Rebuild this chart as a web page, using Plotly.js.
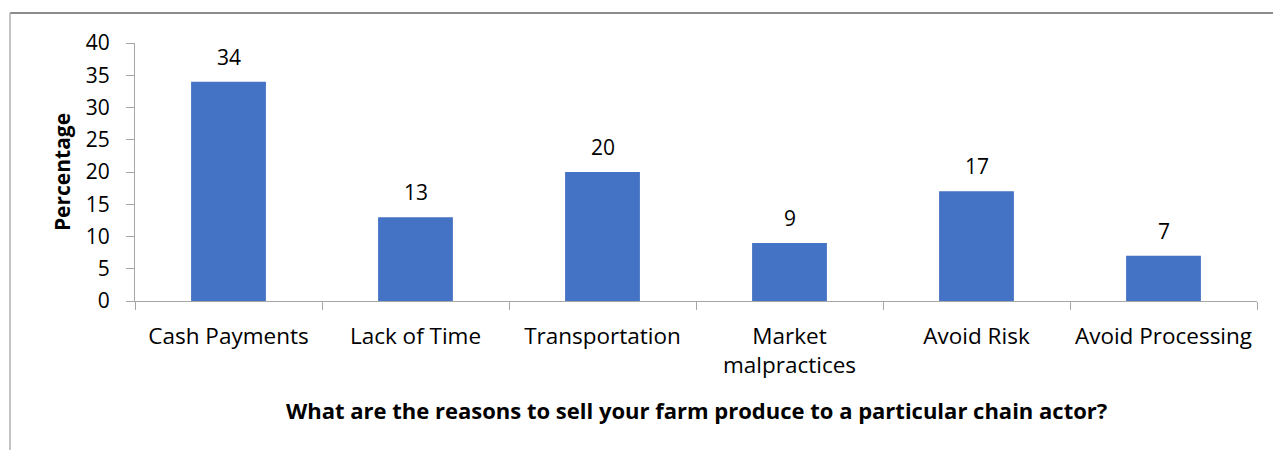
<!DOCTYPE html>
<html>
<head>
<meta charset="utf-8">
<script src="https://cdn.plot.ly/plotly-3.0.1.min.js"></script>
<style>html,body{margin:0;padding:0;background:#fff;}#chart{width:1273px;height:450px;}</style>
</head>
<body>
<div id="chart"></div>
<script>
const categories = ["Cash Payments", "Lack of Time", "Transportation", "Market<br>malpractices", "Avoid Risk", "Avoid Processing"];
const values = [34, 13, 20, 9, 17, 7];
const yTicks = [0, 5, 10, 15, 20, 25, 30, 35, 40];

const FONT = "Open Sans, Noto Sans, sans-serif";
const trace = {
  type: "bar",
  x: categories,
  y: values,
  marker: {color: "#4472c4"},
  width: 0.4,
  hoverinfo: "skip"
};
const annotations = categories.map((c, i) => ({
  x: c, y: values[i], xref: "x", yref: "y",
  text: String(values[i]), showarrow: false,
  yanchor: "bottom", yshift: 9,
  font: {family: FONT, size: 21, color: "#000"}
}));
annotations.push({
  xref: "paper", yref: "paper", x: -0.065, y: 0.5, xanchor: "center", yanchor: "middle",
  text: "<b>Percentage</b>", textangle: -90, showarrow: false,
  font: {family: FONT, size: 21, color: "#000"}
});
annotations.push({
  xref: "paper", yref: "paper", x: 0.5, y: -0.422, xanchor: "center", yanchor: "middle",
  text: "<b>What are the reasons to sell your farm produce to a particular chain actor?</b>", showarrow: false,
  font: {family: FONT, size: 22, color: "#000"}
});
const layout = {
  width: 1273, height: 450,
  margin: {l: 135, r: 16, t: 43, b: 149},
  paper_bgcolor: "#fff", plot_bgcolor: "#fff",
  showlegend: false,
  bargap: 0.6,
  xaxis: {
    type: "category",
    showline: true, linecolor: "#a6a6a6", linewidth: 1,
    ticks: "outside", tickson: "boundaries", ticklen: 8, tickcolor: "#a6a6a6",
    ticklabelstandoff: 15,
    tickfont: {family: FONT, size: 22.5, color: "#000"},
    showgrid: false, zeroline: false, fixedrange: true
  },
  yaxis: {
    range: [0, 40], tickvals: yTicks,
    showline: true, linecolor: "#a6a6a6", linewidth: 1,
    ticks: "outside", ticklen: 8, tickcolor: "#a6a6a6",
    ticklabelstandoff: 12,
    tickfont: {family: FONT, size: 21, color: "#000"},
    showgrid: false, zeroline: false, fixedrange: true
  },
  annotations: annotations,
  shapes: [
    {type: "line", xref: "paper", yref: "paper", x0: -0.1114, x1: 1.1, y0: 1.116, y1: 1.116, line: {color: "#8c8c8c", width: 2}},
    {type: "line", xref: "paper", yref: "paper", x0: -0.1114, x1: -0.1114, y0: 1.116, y1: -1, line: {color: "#b0b0b0", width: 1.5}}
  ]
};
Plotly.newPlot("chart", [trace], layout, {displayModeBar: false, staticPlot: true});
</script>
</body>
</html>
